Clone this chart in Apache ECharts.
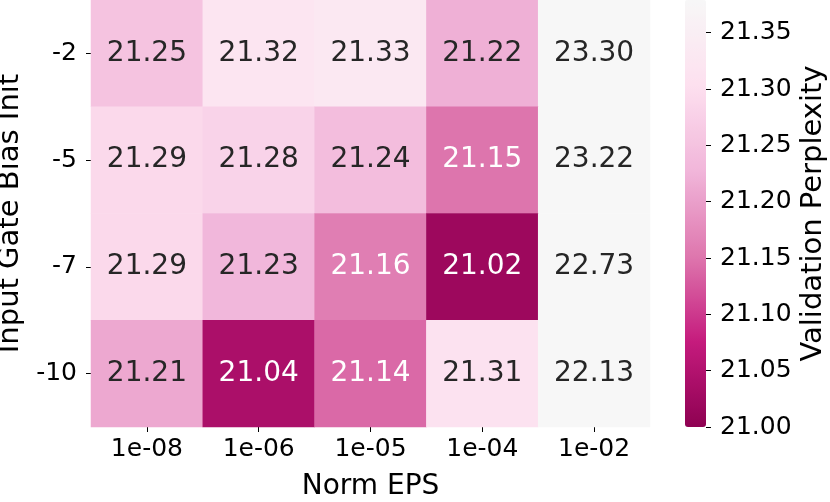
<!DOCTYPE html>
<html>
<head>
<meta charset="utf-8">
<script src="https://cdn.jsdelivr.net/npm/echarts@6/dist/echarts.min.js"></script>
<style>html,body{margin:0;padding:0;background:#fff}#c{width:830px;height:502px}</style>
</head>
<body>
<div id="c"></div>
<script>
const normEps = ['1e-08', '1e-06', '1e-05', '1e-04', '1e-02'];
const biasInit = ['-2', '-5', '-7', '-10'];
const rowM2  = [21.25, 21.32, 21.33, 21.22, 23.30];
const rowM5  = [21.29, 21.28, 21.24, 21.15, 23.22];
const rowM7  = [21.29, 21.23, 21.16, 21.02, 22.73];
const rowM10 = [21.21, 21.04, 21.14, 21.31, 22.13];
const colorbarTicks = [21.00, 21.05, 21.10, 21.15, 21.20, 21.25, 21.30, 21.35];
const vmin = 21.00, vmax = 21.379;

const rows = [rowM2, rowM5, rowM7, rowM10];
const data = [];
rows.forEach((r, yi) => r.forEach((v, xi) => {
  data.push({ value: [xi, yi, v], label: { color: v < 21.18 ? '#ffffff' : '#262626' } });
}));

const FONT = '"DejaVu Sans", sans-serif';
const chart = echarts.init(document.getElementById('c'), null, { renderer: 'canvas' });
chart.setOption({
  animation: false,
  backgroundColor: '#ffffff',
  textStyle: { fontFamily: FONT },
  grid: [
    { left: 91, top: 0, width: 559, height: 427, outerBoundsMode: 'none', containLabel: false },
    { left: 685, top: 0, width: 21, height: 427, outerBoundsMode: 'none', containLabel: false }
  ],
  xAxis: [
    {
      type: 'category', data: normEps, gridIndex: 0, position: 'bottom',
      name: 'Norm EPS', nameLocation: 'middle', nameGap: 46,
      nameTextStyle: { fontSize: 28, color: '#000', fontFamily: FONT },
      axisLine: { show: false },
      axisTick: { show: true, alignWithLabel: true, length: 5, lineStyle: { color: '#000', width: 1 } },
      axisLabel: { fontSize: 25, color: '#000', margin: 10, fontFamily: FONT },
      splitLine: { show: false }
    },
    { type: 'value', gridIndex: 1, show: false, min: 0, max: 1 }
  ],
  yAxis: [
    {
      type: 'category', data: biasInit, gridIndex: 0, inverse: true,
      name: 'Input Gate Bias Init', nameLocation: 'middle', nameGap: 64, nameRotate: 90,
      nameTextStyle: { fontSize: 29, color: '#000', fontFamily: FONT },
      axisLine: { show: false },
      axisTick: { show: true, alignWithLabel: true, length: 5, lineStyle: { color: '#000', width: 1 } },
      axisLabel: { fontSize: 25, color: '#000', margin: 14, fontFamily: FONT },
      splitLine: { show: false }
    },
    {
      type: 'value', gridIndex: 1, min: vmin, max: vmax, position: 'right',
      name: 'Validation Perplexity', nameLocation: 'middle', nameGap: 93, nameRotate: 90,
      nameTextStyle: { fontSize: 29, color: '#000', fontFamily: FONT },
      axisLine: { show: true, onZero: false, lineStyle: { color: 'rgba(0,0,0,0)', width: 0 } },
      axisTick: { show: true, length: 5, customValues: colorbarTicks, lineStyle: { color: '#000', width: 1 } },
      axisLabel: { fontSize: 25, color: '#000', margin: 14, fontFamily: FONT, customValues: colorbarTicks,
        formatter: v => Number(v).toFixed(2) },
      splitLine: { show: false },
      z: 10
    }
  ],
  visualMap: {
    type: 'continuous', min: vmin, max: vmax, seriesIndex: 0, dimension: 2,
    left: 685, top: 0, itemWidth: 21, itemHeight: 427, padding: 0,
    text: null, showLabel: false, calculable: false, hoverLink: false, realtime: false,
    indicatorSize: 0, orient: 'vertical',
    inRange: { color: ['#8e0152', '#c51b7d', '#de77ae', '#f1b6da', '#fde0ef', '#f7f7f7'] },
    outOfRange: { color: '#f7f7f7' }
  },
  series: [{
    type: 'heatmap', xAxisIndex: 0, yAxisIndex: 0, data: data,
    label: { show: true, fontSize: 28, fontFamily: FONT, formatter: p => p.value[2].toFixed(2) },
    itemStyle: { borderWidth: 0 },
    emphasis: { disabled: true }
  }]
});
</script>
</body>
</html>
